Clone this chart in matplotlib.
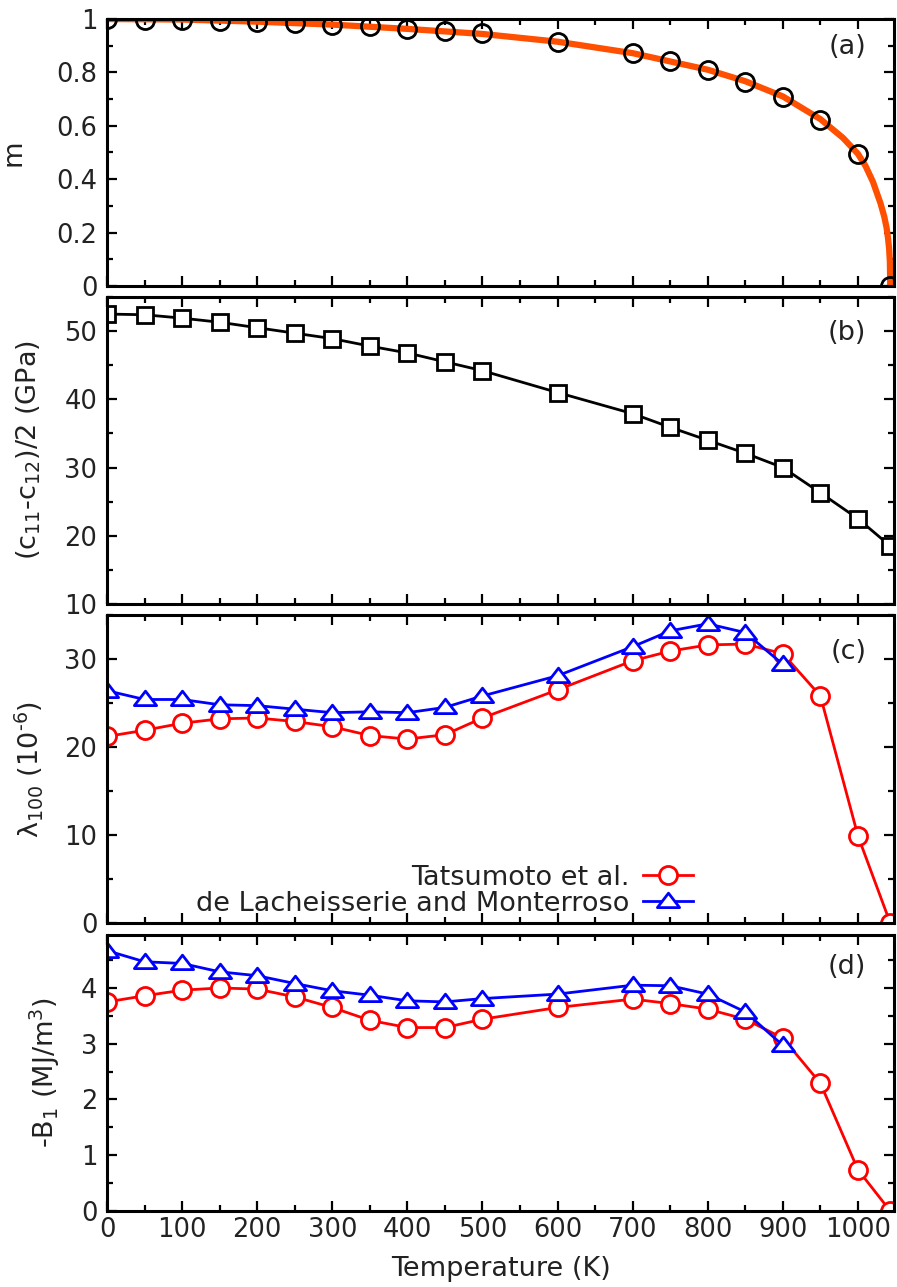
import numpy as np
import matplotlib
matplotlib.use('Agg')
import matplotlib.pyplot as plt
from matplotlib.ticker import MultipleLocator, FuncFormatter
from matplotlib.path import Path

# temperatures (K)
T_all = [0, 50, 100, 150, 200, 250, 300, 350, 400, 450, 500, 600,
         700, 750, 800, 850, 900, 950, 1000, 1043]
T_dl = [0, 50, 100, 150, 200, 250, 300, 350, 400, 450, 500, 600,
        700, 750, 800, 850, 900]

# (a) reduced magnetization
m_pts = [1.0, 0.998, 0.997, 0.994, 0.989, 0.985, 0.979, 0.972, 0.964, 0.955,
         0.946, 0.915, 0.871, 0.844, 0.809, 0.765, 0.709, 0.622, 0.494, 0.0]
T_fit = [0, 100, 200, 300, 400, 500, 600, 700, 800, 850, 900, 950, 980,
         1000, 1010, 1020, 1025, 1030, 1035, 1038, 1040, 1041.5, 1042.5, 1043]
m_fit = [1.0, 0.998, 0.99, 0.979, 0.963, 0.944, 0.915, 0.872, 0.81, 0.767,
         0.71, 0.625, 0.555, 0.495, 0.45, 0.39, 0.35, 0.31, 0.26, 0.22, 0.18,
         0.14, 0.09, 0.0]

# (b) shear modulus
c_prime = [52.5, 52.4, 51.9, 51.3, 50.5, 49.7, 48.9, 47.8, 46.8, 45.5, 44.2,
           41.0, 37.9, 35.9, 34.0, 32.1, 30.0, 26.3, 22.5, 18.5]

# (c) magnetostriction lambda_100
lam_tat = [21.2, 21.9, 22.7, 23.2, 23.3, 22.9, 22.3, 21.3, 20.9, 21.4, 23.3,
           26.5, 29.8, 30.9, 31.6, 31.7, 30.6, 25.8, 9.9, 0.0]
lam_dl = [26.4, 25.4, 25.4, 24.8, 24.7, 24.3, 23.9, 24.0, 23.9, 24.5, 25.8,
          28.1, 31.4, 33.2, 34.0, 33.0, 29.4]

# (d) magnetoelastic constant -B1
b1_tat = [3.75, 3.86, 3.96, 4.0, 3.98, 3.84, 3.65, 3.42, 3.29, 3.29, 3.44,
          3.65, 3.80, 3.72, 3.62, 3.44, 3.10, 2.29, 0.74, 0.0]
b1_dl = [4.67, 4.47, 4.44, 4.29, 4.22, 4.08, 3.95, 3.87, 3.77, 3.75, 3.81,
         3.89, 4.05, 4.04, 3.89, 3.57, 2.97]

FS = 19.5      # labels, legend
FS_TICK = 18.5
TXT = '#222222'
plt.rcParams['font.family'] = 'DejaVu Sans'
plt.rcParams['mathtext.fontset'] = 'dejavusans'
plt.rcParams['mathtext.default'] = 'regular'

fig = plt.figure(figsize=(8.97, 12.87), dpi=100)
W, H = 897.0, 1287.0
left, right = 107 / W, 894 / W
# (top, bottom) of each panel in pixels
boxes = [(19, 286), (297, 604), (615, 923), (935, 1211)]
axes = []
for top, bot in boxes:
    axes.append(fig.add_axes([left, 1 - bot / H, right - left, (bot - top) / H]))

# flat triangle like gnuplot's
tri = Path([(-1, -0.55), (1, -0.55), (0, 0.75), (-1, -0.55)],
           [Path.MOVETO, Path.LINETO, Path.LINETO, Path.CLOSEPOLY])

line_kw = dict(linewidth=2.0, markeredgewidth=2.0, markerfacecolor='white')

ax = axes[0]
ax.plot(T_fit, m_fit, color='#ff4f00', linewidth=4.5, solid_capstyle='butt')
ax.plot(T_all, m_pts, linestyle='none', marker='o', markersize=13,
        markeredgecolor='black', markerfacecolor='none', markeredgewidth=2.0)
ax.set_ylim(0, 1)
ax.yaxis.set_major_locator(MultipleLocator(0.2))
ax.yaxis.set_minor_locator(MultipleLocator(0.1))
ax.yaxis.set_major_formatter(FuncFormatter(lambda v, p: '%g' % round(v, 2)))
ax.set_ylabel('m', fontsize=FS, color=TXT)
ax.yaxis.set_label_coords(-0.102, 0.5)

ax = axes[1]
ax.plot(T_all, c_prime, color='black', marker='s', markersize=12,
        markeredgecolor='black', **line_kw)
ax.set_ylim(10, 55)
ax.yaxis.set_major_locator(MultipleLocator(10))
ax.yaxis.set_minor_locator(MultipleLocator(5))
ax.set_ylabel('(c$_{11}$-c$_{12}$)/2 (GPa)', fontsize=FS, color=TXT)
ax.yaxis.set_label_coords(-0.081, 0.5)

ax = axes[2]
ax.plot(T_all, lam_tat, color='red', marker='o', markersize=13,
        markeredgecolor='red', label='Tatsumoto et al.', **line_kw)
ax.plot(T_dl, lam_dl, color='blue', marker=tri, markersize=16,
        markeredgecolor='blue', label='de Lacheisserie and Monterroso', **line_kw)
ax.set_ylim(0, 35)
ax.yaxis.set_major_locator(MultipleLocator(10))
ax.yaxis.set_minor_locator(MultipleLocator(5))
ax.set_ylabel('\u03bb$_{100}$ (10$^{\u20106}$)', fontsize=FS, color=TXT)
ax.yaxis.set_label_coords(-0.079, 0.5)
leg = ax.legend(loc='lower right', bbox_to_anchor=(0.745, 0.02),
                markerfirst=False, frameon=False, fontsize=FS,
                handlelength=1.85, handletextpad=0.5, labelspacing=0.0,
                borderpad=0, borderaxespad=0)
for t in leg.get_texts():
    t.set_color(TXT)

ax = axes[3]
ax.plot(T_all, b1_tat, color='red', marker='o', markersize=13,
        markeredgecolor='red', **line_kw)
ax.plot(T_dl, b1_dl, color='blue', marker=tri, markersize=16,
        markeredgecolor='blue', **line_kw)
ax.set_ylim(0, 4.95)
ax.yaxis.set_major_locator(MultipleLocator(1))
ax.yaxis.set_minor_locator(MultipleLocator(0.5))
ax.set_ylabel('-B$_1$ (MJ/m$^3$)', fontsize=FS, color=TXT)
ax.yaxis.set_label_coords(-0.057, 0.5)
ax.set_xlabel('Temperature (K)', fontsize=FS, color=TXT, labelpad=9)

panel_labels = ['(a)', '(b)', '(c)', '(d)']
label_y = [0.895, 0.883, 0.88, 0.884]
for ax, lab, ly in zip(axes, panel_labels, label_y):
    ax.set_xlim(0, 1048)
    ax.xaxis.set_major_locator(MultipleLocator(100))
    ax.xaxis.set_minor_locator(MultipleLocator(50))
    for key in ax.spines:
        ax.spines[key].set_linewidth(2.2)
    ax.tick_params(which='both', direction='in', top=True, right=True,
                   width=1.6, colors='black', labelcolor=TXT,
                   labelsize=FS_TICK)
    ax.tick_params(which='major', length=7.5)
    ax.tick_params(which='minor', length=4)
    ax.tick_params(axis='y', pad=7)
    ax.tick_params(axis='x', pad=4.5)
    if ax is not axes[3]:
        ax.tick_params(axis='x', labelbottom=False)
    ax.text(0.965, ly, lab, transform=ax.transAxes, ha='right', va='center',
            fontsize=FS, color=TXT)

fig.savefig('out.png', dpi=100)
